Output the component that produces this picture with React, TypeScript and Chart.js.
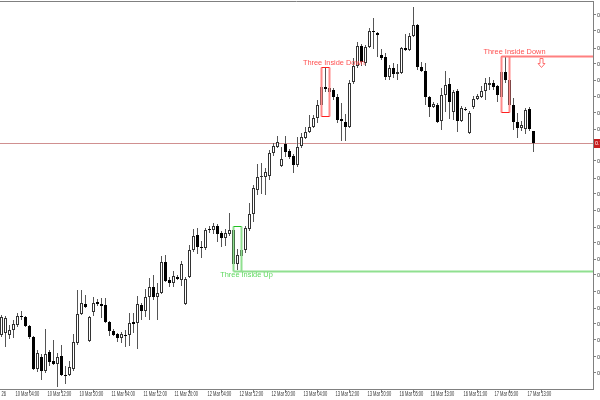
import React, { useEffect, useRef } from "react";
import { Chart, registerables } from "chart.js";

Chart.register(...registerables);

// Hourly candles (bar index 0 = first bar on screen)
const opens = [
  0.7054, 0.7056, 0.7054, 0.7059, 0.7064, 0.7073, 0.7072, 0.7063, 0.7052, 0.7020,
  0.7032, 0.7018, 0.7037, 0.7028, 0.7025, 0.7033, 0.7014, 0.7014, 0.7020, 0.7046,
  0.7075, 0.7085, 0.7048, 0.7077, 0.7087, 0.7085, 0.7084, 0.7067, 0.7058, 0.7055,
  0.7051, 0.7054, 0.7054, 0.7067, 0.7066, 0.7084, 0.7078, 0.7092, 0.7102, 0.7092,
  0.7096, 0.7127, 0.7109, 0.7106, 0.7112, 0.7109, 0.7085, 0.7112, 0.7139, 0.7154,
  0.7142, 0.7141, 0.7160, 0.7159, 0.7163, 0.7156, 0.7151, 0.7155, 0.7159, 0.7125,
  0.7133, 0.7139, 0.7160, 0.7175, 0.7199, 0.7212, 0.7212, 0.7213, 0.7236, 0.7242,
  0.7223, 0.7245, 0.7238, 0.7233, 0.7224, 0.7243, 0.7251, 0.7257, 0.7262, 0.7271,
  0.7284, 0.7302, 0.7301, 0.7299, 0.7292, 0.7270, 0.7267, 0.7262, 0.7307, 0.7323,
  0.7343, 0.7326, 0.7342, 0.7358, 0.7356, 0.7334, 0.7332, 0.7312, 0.7321, 0.7315,
  0.7316, 0.7341, 0.7339, 0.7353, 0.7364, 0.7322, 0.7318, 0.7292, 0.7282, 0.7284,
  0.7268, 0.7294, 0.7305, 0.7277, 0.7298, 0.7268, 0.7280, 0.7256, 0.7282, 0.7290,
  0.7292, 0.7298, 0.7304, 0.7306, 0.7303, 0.7292, 0.7317, 0.7309, 0.7284, 0.7267,
  0.7261, 0.7260, 0.7280, 0.7258,
];
const highs = [
  0.7074, 0.7073, 0.7064, 0.7069, 0.7076, 0.7078, 0.7073, 0.7064, 0.7053, 0.7039,
  0.7035, 0.7060, 0.7039, 0.7049, 0.7036, 0.7044, 0.7023, 0.7028, 0.7055, 0.7099,
  0.7099, 0.7094, 0.7073, 0.7092, 0.7090, 0.7091, 0.7091, 0.7068, 0.7060, 0.7056,
  0.7057, 0.7059, 0.7076, 0.7076, 0.7093, 0.7086, 0.7100, 0.7111, 0.7114, 0.7106,
  0.7133, 0.7134, 0.7112, 0.7118, 0.7114, 0.7128, 0.7112, 0.7144, 0.7160, 0.7161,
  0.7148, 0.7161, 0.7163, 0.7166, 0.7165, 0.7158, 0.7160, 0.7176, 0.7160, 0.7140,
  0.7143, 0.7163, 0.7186, 0.7204, 0.7225, 0.7226, 0.7221, 0.7239, 0.7246, 0.7253,
  0.7242, 0.7253, 0.7240, 0.7235, 0.7252, 0.7256, 0.7262, 0.7274, 0.7274, 0.7289,
  0.7304, 0.7322, 0.7303, 0.7301, 0.7295, 0.7286, 0.7275, 0.7309, 0.7331, 0.7347,
  0.7345, 0.7344, 0.7361, 0.7371, 0.7357, 0.7340, 0.7336, 0.7324, 0.7326, 0.7325,
  0.7342, 0.7355, 0.7356, 0.7382, 0.7365, 0.7327, 0.7326, 0.7293, 0.7287, 0.7286,
  0.7301, 0.7318, 0.7311, 0.7299, 0.7300, 0.7283, 0.7282, 0.7278, 0.7293, 0.7295,
  0.7303, 0.7311, 0.7312, 0.7309, 0.7304, 0.7319, 0.7333, 0.7310, 0.7291, 0.7276,
  0.7268, 0.7281, 0.7282, 0.7258,
];
const lows = [
  0.7052, 0.7042, 0.7050, 0.7051, 0.7062, 0.7069, 0.7062, 0.7050, 0.7019, 0.7017,
  0.7009, 0.7016, 0.7023, 0.7024, 0.7002, 0.7013, 0.7005, 0.7013, 0.7018, 0.7044,
  0.7074, 0.7081, 0.7047, 0.7073, 0.7083, 0.7071, 0.7066, 0.7053, 0.7053, 0.7047,
  0.7046, 0.7042, 0.7043, 0.7056, 0.7040, 0.7069, 0.7072, 0.7069, 0.7089, 0.7069,
  0.7095, 0.7107, 0.7102, 0.7102, 0.7109, 0.7103, 0.7084, 0.7111, 0.7137, 0.7135,
  0.7131, 0.7139, 0.7156, 0.7155, 0.7147, 0.7142, 0.7143, 0.7153, 0.7123, 0.7119,
  0.7131, 0.7136, 0.7158, 0.7167, 0.7194, 0.7195, 0.7194, 0.7209, 0.7233, 0.7241,
  0.7222, 0.7232, 0.7230, 0.7216, 0.7222, 0.7241, 0.7250, 0.7256, 0.7261, 0.7266,
  0.7273, 0.7297, 0.7294, 0.7289, 0.7266, 0.7248, 0.7248, 0.7261, 0.7305, 0.7321,
  0.7323, 0.7323, 0.7341, 0.7340, 0.7332, 0.7329, 0.7309, 0.7309, 0.7311, 0.7309,
  0.7315, 0.7338, 0.7338, 0.7352, 0.7319, 0.7317, 0.7284, 0.7272, 0.7281, 0.7266,
  0.7259, 0.7277, 0.7270, 0.7269, 0.7257, 0.7267, 0.7278, 0.7255, 0.7280, 0.7289,
  0.7291, 0.7289, 0.7299, 0.7299, 0.7287, 0.7277, 0.7306, 0.7277, 0.7259, 0.7251,
  0.7258, 0.7255, 0.7258, 0.7237,
];
const closes = [
  0.7072, 0.7071, 0.7059, 0.7065, 0.7073, 0.7072, 0.7063, 0.7052, 0.7020, 0.7036,
  0.7018, 0.7035, 0.7027, 0.7025, 0.7032, 0.7014, 0.7013, 0.7022, 0.7047, 0.7075,
  0.7086, 0.7082, 0.7072, 0.7086, 0.7085, 0.7083, 0.7067, 0.7058, 0.7054, 0.7051,
  0.7055, 0.7053, 0.7066, 0.7065, 0.7085, 0.7078, 0.7092, 0.7102, 0.7092, 0.7096,
  0.7127, 0.7108, 0.7106, 0.7113, 0.7110, 0.7125, 0.7110, 0.7139, 0.7153, 0.7142,
  0.7141, 0.7159, 0.7159, 0.7163, 0.7155, 0.7151, 0.7156, 0.7159, 0.7125, 0.7134,
  0.7139, 0.7161, 0.7175, 0.7201, 0.7212, 0.7213, 0.7217, 0.7236, 0.7243, 0.7247,
  0.7230, 0.7237, 0.7232, 0.7224, 0.7242, 0.7252, 0.7257, 0.7262, 0.7271, 0.7284,
  0.7302, 0.7300, 0.7297, 0.7292, 0.7269, 0.7268, 0.7262, 0.7306, 0.7323, 0.7343,
  0.7327, 0.7342, 0.7358, 0.7357, 0.7354, 0.7331, 0.7312, 0.7321, 0.7315, 0.7317,
  0.7341, 0.7339, 0.7353, 0.7364, 0.7322, 0.7318, 0.7292, 0.7282, 0.7285, 0.7267,
  0.7294, 0.7304, 0.7287, 0.7297, 0.7268, 0.7281, 0.7279, 0.7276, 0.7290, 0.7293,
  0.7298, 0.7306, 0.7306, 0.7302, 0.7294, 0.7317, 0.7309, 0.7284, 0.7267, 0.7261,
  0.7264, 0.7279, 0.7260, 0.7246,
];

// Time axis: bar index of each labelled tick and its text
const xTickIndex = [-0.375, 3, 11, 19, 27, 35, 43, 51, 59, 67, 75, 83, 91, 99, 107, 115, 123, 131];
const xTickLabels = [
  "26",
  "10 Mar 04:00", "10 Mar 12:00", "10 Mar 20:00",
  "11 Mar 04:00", "11 Mar 12:00", "11 Mar 20:00",
  "12 Mar 04:00", "12 Mar 12:00", "12 Mar 20:00",
  "13 Mar 04:00", "13 Mar 12:00", "13 Mar 20:00",
  "16 Mar 05:00", "16 Mar 13:00", "16 Mar 21:00",
  "17 Mar 05:00", "17 Mar 13:00",
];

// Price axis ticks
const yTickValues = [
  0.7016, 0.7032, 0.7049, 0.7065, 0.7081, 0.7097, 0.7114, 0.7130, 0.7146, 0.7162,
  0.7179, 0.7195, 0.7211, 0.7228, 0.7244, 0.7260, 0.7276, 0.7293, 0.7309, 0.7325,
  0.7341, 0.7358, 0.7374,
];

const bidPrice = 0.7246;

// Candlestick patterns found
const patternNames = ["Three Inside Up", "Three Inside Down", "Three Inside Down"];
const patternDirection = ["up", "down", "down"];
const patternStart = [58, 80, 125];
const patternEnd = [60, 82, 127];
const patternHigh = [0.7163, 0.7322, 0.7333];
const patternLow = [0.7118, 0.7273, 0.7277];
const patternExtended = [true, false, true];
const patternLabelIndex = [61.25, 83.1, 128.25];
const patternLabelPrice = [0.7114, 0.7326, 0.7337];
const arrowIndex = 134.75;
const arrowPrice = 0.7331;

const LABEL_FONT = '7.4px "Liberation Sans", Arial, sans-serif';
const AXIS_FONT_FAMILY = '"Liberation Sans", Arial, sans-serif';

const overlayPlugin = {
  id: "overlay",
  beforeDatasetsDraw(chart: any) {
    const { ctx, chartArea, scales } = chart;
    const yb = Math.round(scales.y.getPixelForValue(bidPrice)) + 0.5;
    ctx.save();
    ctx.strokeStyle = "#d09090";
    ctx.lineWidth = 1;
    ctx.beginPath();
    ctx.moveTo(chartArea.left, yb);
    ctx.lineTo(chartArea.right, yb);
    ctx.stroke();
    ctx.restore();
  },
  afterDatasetsDraw(chart: any) {
    const { ctx, chartArea, scales } = chart;
    const xs = scales.x;
    const ys = scales.y;
    ctx.save();
    for (let k = 0; k < patternNames.length; k++) {
      const x1 = Math.round(xs.getPixelForValue(patternStart[k])) - 0.5;
      const x2 = Math.round(xs.getPixelForValue(patternEnd[k])) - 0.5;
      const yt = Math.round(ys.getPixelForValue(patternHigh[k])) + 0.5;
      const yl = Math.round(ys.getPixelForValue(patternLow[k])) + 0.5;
      if (patternDirection[k] === "up") {
        ctx.strokeStyle = "#90e090";
        ctx.lineWidth = 2;
        ctx.beginPath();
        ctx.moveTo(x1, yt);
        ctx.lineTo(x1, yl);
        ctx.moveTo(x2, yt);
        ctx.lineTo(x2, yl);
        ctx.stroke();
        ctx.beginPath();
        ctx.moveTo(x1, yl);
        ctx.lineTo(patternExtended[k] ? chartArea.right : x2, yl);
        ctx.stroke();
        ctx.strokeStyle = "#22c022";
        ctx.lineWidth = 1;
        ctx.beginPath();
        ctx.moveTo(x1, yt);
        ctx.lineTo(x2, yt);
        ctx.stroke();
        ctx.fillStyle = "#5fd85f";
      } else {
        ctx.strokeStyle = "#ff8a8a";
        ctx.lineWidth = 2;
        ctx.beginPath();
        ctx.moveTo(x1, yt);
        ctx.lineTo(x1, yl);
        ctx.moveTo(x2, yt);
        ctx.lineTo(x2, yl);
        ctx.stroke();
        ctx.strokeStyle = "#ff2020";
        ctx.lineWidth = 1;
        ctx.beginPath();
        ctx.moveTo(x1, yt);
        ctx.lineTo(x2, yt);
        ctx.moveTo(x1, yl);
        ctx.lineTo(x2, yl);
        ctx.stroke();
        if (patternExtended[k]) {
          ctx.strokeStyle = "#ff8080";
          ctx.lineWidth = 2;
          ctx.beginPath();
          ctx.moveTo(x1, yt);
          ctx.lineTo(chartArea.right, yt);
          ctx.stroke();
        }
        ctx.fillStyle = "#ff5050";
      }
      ctx.font = LABEL_FONT;
      ctx.textAlign = "center";
      ctx.textBaseline = "middle";
      ctx.fillText(
        patternNames[k],
        xs.getPixelForValue(patternLabelIndex[k]),
        ys.getPixelForValue(patternLabelPrice[k])
      );
    }
    // hollow down arrow
    const cx = Math.round(xs.getPixelForValue(arrowIndex)) + 0.5;
    const ty = Math.round(ys.getPixelForValue(arrowPrice)) + 0.5;
    ctx.strokeStyle = "#ff7070";
    ctx.fillStyle = "#ffffff";
    ctx.lineWidth = 1;
    ctx.beginPath();
    ctx.moveTo(cx - 1.5, ty);
    ctx.lineTo(cx + 1.5, ty);
    ctx.lineTo(cx + 1.5, ty + 5);
    ctx.lineTo(cx + 3.5, ty + 5);
    ctx.lineTo(cx, ty + 9);
    ctx.lineTo(cx - 3.5, ty + 5);
    ctx.lineTo(cx - 1.5, ty + 5);
    ctx.closePath();
    ctx.fill();
    ctx.stroke();
    ctx.restore();
  },
  afterDraw(chart: any) {
    const { ctx, chartArea, scales } = chart;
    ctx.save();
    // top frame line
    ctx.strokeStyle = "#808080";
    ctx.lineWidth = 1;
    ctx.beginPath();
    ctx.moveTo(chartArea.left, chartArea.top + 0.5);
    ctx.lineTo(chartArea.right, chartArea.top + 0.5);
    ctx.stroke();
    // time labels (condensed, left-aligned after each tick mark)
    ctx.fillStyle = "#333333";
    ctx.font = "6.5px " + AXIS_FONT_FAMILY;
    ctx.textAlign = "left";
    ctx.textBaseline = "middle";
    for (let k = 0; k < xTickIndex.length; k++) {
      const px = Math.max(0, Math.round(scales.x.getPixelForValue(xTickIndex[k])) + 1.5);
      ctx.save();
      ctx.translate(px, chartArea.bottom + 5);
      ctx.scale(0.62, 1);
      ctx.fillText(xTickLabels[k], 0, 0);
      ctx.restore();
    }
    // bid price marker
    const yb = Math.round(scales.y.getPixelForValue(bidPrice));
    ctx.fillStyle = "#c81e1e";
    ctx.fillRect(chartArea.right + 1, yb - 4, 10, 9);
    ctx.fillStyle = "#ffffff";
    ctx.font = "5.5px " + AXIS_FONT_FAMILY;
    ctx.textAlign = "left";
    ctx.textBaseline = "middle";
    ctx.fillText(bidPrice.toFixed(4), chartArea.right + 2, yb + 0.5);
    ctx.restore();
  },
};

export default function App() {
  const canvasRef = useRef<HTMLCanvasElement | null>(null);

  useEffect(() => {
    document.body.style.margin = "0";
    const canvas = canvasRef.current;
    if (!canvas) return;

    const wickData = lows.map((l, i) => ({ x: i, y: [l, highs[i]] }));
    const bodyData = opens.map((o, i) => ({ x: i, y: [o, closes[i]] }));
    const bodyFill = opens.map((o, i) => (closes[i] >= o ? "#ffffff" : "#000000"));
    const bodyBorder = opens.map((o, i) => (closes[i] >= o ? "#333333" : "#000000"));

    const chart = new Chart(canvas, {
      type: "bar",
      data: {
        datasets: [
          {
            label: "wick",
            data: wickData as any,
            backgroundColor: "#555555",
            borderWidth: 0,
            barThickness: 1,
            grouped: false,
            inflateAmount: 0,
            order: 2,
          } as any,
          {
            label: "body",
            data: bodyData as any,
            backgroundColor: bodyFill,
            borderColor: bodyBorder,
            borderWidth: 1,
            borderSkipped: false,
            barThickness: 3,
            grouped: false,
            inflateAmount: 0,
            order: 1,
          } as any,
        ],
      },
      options: {
        responsive: false,
        animation: false,
        devicePixelRatio: 1,
        layout: { padding: { top: 1, left: 0, right: 0, bottom: 0 } },
        plugins: {
          legend: { display: false },
          tooltip: { enabled: false },
          title: { display: false },
        },
        scales: {
          x: {
            type: "linear",
            offset: false,
            min: -0.375,
            max: 147.875,
            afterBuildTicks: (scale: any) => {
              scale.ticks = xTickIndex.slice(1).map((v) => ({ value: v }));
            },
            afterFit: (scale: any) => {
              scale.height = 11;
              scale.paddingLeft = 0;
              scale.paddingRight = 0;
            },
            grid: {
              drawOnChartArea: false,
              drawTicks: true,
              tickLength: 4,
              tickColor: "#808080",
            },
            border: { display: true, color: "#808080", width: 1 },
            ticks: {
              display: false,
              autoSkip: false,
              maxRotation: 0,
              minRotation: 0,
            },
          },
          y: {
            type: "linear",
            position: "right",
            min: 0.7,
            max: 0.7388,
            afterBuildTicks: (scale: any) => {
              scale.ticks = yTickValues.map((v) => ({ value: v }));
            },
            afterFit: (scale: any) => {
              scale.width = 7;
              scale.paddingTop = 0;
              scale.paddingBottom = 0;
            },
            grid: {
              drawOnChartArea: false,
              drawTicks: true,
              tickLength: 3,
              tickColor: "#808080",
            },
            border: { display: true, color: "#808080", width: 1 },
            ticks: {
              autoSkip: false,
              padding: 1,
              color: "#333333",
              font: { size: 5.5, family: AXIS_FONT_FAMILY, lineHeight: 1 },
              callback: (v: any) => Number(v).toFixed(4),
            },
          },
        },
      } as any,
      plugins: [overlayPlugin],
    });

    return () => {
      chart.destroy();
    };
  }, []);

  return (
    <div style={{ position: "fixed", left: 0, top: 0, width: 600, height: 400, background: "#ffffff" }}>
      <canvas ref={canvasRef} width={600} height={400} style={{ width: 600, height: 400, display: "block" }} />
    </div>
  );
}
